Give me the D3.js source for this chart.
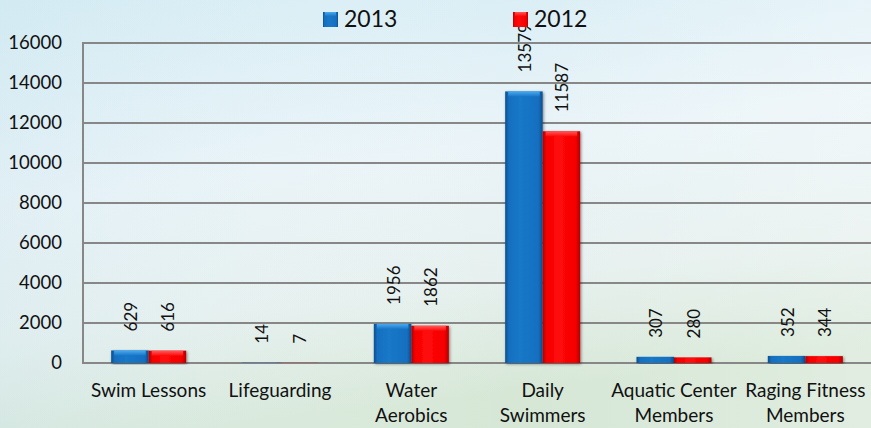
<!DOCTYPE html>
<html>
<head>
<meta charset="utf-8">
<script src="https://cdn.jsdelivr.net/npm/d3@7"></script>
<style>
  html, body { margin: 0; padding: 0; }
  body { width: 871px; height: 428px; overflow: hidden; }
  svg { display: block; font-family: Lato, "Open Sans", sans-serif; }
</style>
</head>
<body>
<svg id="chart" width="871" height="428"></svg>
<script>
const categories = [["Swim Lessons"], ["Lifeguarding"], ["Water", "Aerobics"], ["Daily", "Swimmers"], ["Aquatic Center", "Members"], ["Raging Fitness", "Members"]];
const seriesNames = ["2013", "2012"];
const values2013 = [629, 14, 1956, 13579, 307, 352];
const values2012 = [616, 7, 1862, 11587, 280, 344];
const yTicks = [0, 2000, 4000, 6000, 8000, 10000, 12000, 14000, 16000];

const W = 871, H = 428;
const svg = d3.select("#chart");
const defs = svg.append("defs");

// background
const bg = defs.append("linearGradient").attr("id", "bg").attr("x1", 0).attr("y1", 0).attr("x2", 0.25).attr("y2", 1);
bg.append("stop").attr("offset", "0%").attr("stop-color", "#d4ecf4");
bg.append("stop").attr("offset", "45%").attr("stop-color", "#eaf4f8");
bg.append("stop").attr("offset", "75%").attr("stop-color", "#e6f0ee");
bg.append("stop").attr("offset", "100%").attr("stop-color", "#d6e7d6");
svg.append("rect").attr("width", W).attr("height", H).attr("fill", "url(#bg)");
const bg2 = defs.append("linearGradient").attr("id", "bg2").attr("x1", 0).attr("y1", 0).attr("x2", 1).attr("y2", 0);
bg2.append("stop").attr("offset", "0%").attr("stop-color", "#cfe6ef").attr("stop-opacity", 0.35);
bg2.append("stop").attr("offset", "60%").attr("stop-color", "#ffffff").attr("stop-opacity", 0);
bg2.append("stop").attr("offset", "100%").attr("stop-color", "#ffffff").attr("stop-opacity", 0.25);
svg.append("rect").attr("width", W).attr("height", H).attr("fill", "url(#bg2)");

// bar gradients
function barGrad(id, edge, mid, light) {
  const g = defs.append("linearGradient").attr("id", id).attr("x1", 0).attr("y1", 0).attr("x2", 1).attr("y2", 0);
  g.append("stop").attr("offset", "0%").attr("stop-color", edge);
  g.append("stop").attr("offset", "10%").attr("stop-color", mid);
  g.append("stop").attr("offset", "40%").attr("stop-color", light);
  g.append("stop").attr("offset", "88%").attr("stop-color", mid);
  g.append("stop").attr("offset", "100%").attr("stop-color", edge);
}
barGrad("gBlue", "#0d4f8e", "#146fc0", "#1a78c8");
barGrad("gRed", "#b00000", "#f50000", "#ff0a0a");
function topGrad(id, c1, c2) {
  const g = defs.append("linearGradient").attr("id", id).attr("x1", 0).attr("y1", 0).attr("x2", 0).attr("y2", 1);
  g.append("stop").attr("offset", "0%").attr("stop-color", c1);
  g.append("stop").attr("offset", "100%").attr("stop-color", c2);
}
topGrad("tBlue", "#4aaaf0", "#1a78c8");
topGrad("tRed", "#ff5a5a", "#ff0a0a");
const shadow = defs.append("filter").attr("id", "shadow").attr("x", "-20%").attr("y", "-5%").attr("width", "140%").attr("height", "115%");
shadow.append("feDropShadow").attr("dx", 1).attr("dy", 1).attr("stdDeviation", 1.5).attr("flood-color", "#000").attr("flood-opacity", 0.45);

const margin = { left: 83, right: 0, top: 43, bottom: 65 };
const x0 = d3.scaleBand().domain(d3.range(categories.length)).range([margin.left, W - margin.right]).padding(0);
const bw = x0.bandwidth();
const groupW = 75;
const x1 = d3.scaleBand().domain(seriesNames).range([(bw - groupW) / 2, (bw + groupW) / 2]).padding(0);
const y = d3.scaleLinear().domain([0, 16000]).range([H - margin.bottom, margin.top]);

// gridlines
const grid = svg.append("g");
grid.selectAll("line").data(yTicks).join("line")
  .attr("x1", margin.left).attr("x2", W)
  .attr("y1", d => y(d)).attr("y2", d => y(d))
  .attr("stroke", "#878787").attr("stroke-width", 2);
svg.append("line").attr("x1", margin.left).attr("x2", margin.left)
  .attr("y1", y(16000) - 1).attr("y2", y(0) + 1)
  .attr("stroke", "#878787").attr("stroke-width", 2);

// y axis labels
const yAxis = d3.axisLeft(y).tickValues(yTicks).tickSize(0).tickPadding(21).tickFormat(d3.format("d"));
const ya = svg.append("g").attr("transform", `translate(${margin.left},0)`).call(yAxis);
ya.select(".domain").remove();
ya.selectAll("text").attr("font-size", 18.5).attr("fill", "#111").attr("font-family", "Lato, sans-serif");

// bars
const data = categories.map((c, i) => ({ i, vals: [{ s: "2013", v: values2013[i] }, { s: "2012", v: values2012[i] }] }));
const groups = svg.append("g").selectAll("g").data(data).join("g")
  .attr("transform", d => `translate(${x0(d.i)},0)`);
const bars = groups.selectAll("g.bar").data(d => d.vals).join("g").attr("class", "bar");
bars.append("rect")
  .attr("x", d => x1(d.s)).attr("width", x1.bandwidth())
  .attr("y", d => y(d.v)).attr("height", d => y(0) - y(d.v))
  .attr("fill", d => d.s === "2013" ? "url(#gBlue)" : "url(#gRed)")
  .attr("filter", "url(#shadow)");
bars.filter(d => y(0) - y(d.v) > 8).append("rect")
  .attr("x", d => x1(d.s) + 3).attr("width", x1.bandwidth() - 6)
  .attr("y", d => y(d.v)).attr("height", 5)
  .attr("fill", d => d.s === "2013" ? "url(#tBlue)" : "url(#tRed)");

// value labels (rotated)
groups.selectAll("text.val").data(d => d.vals).join("text").attr("class", "val")
  .attr("transform", d => `translate(${x1(d.s) + x1.bandwidth() / 2 + 7},${y(d.v) - 19}) rotate(-90)`)
  .attr("text-anchor", "start")
  .attr("font-size", 17).attr("fill", "#111")
  .text(d => d.v);

// category labels
const cat = svg.append("g").selectAll("text").data(categories).join("text")
  .attr("x", (d, i) => x0(i) + bw / 2)
  .attr("y", H - margin.bottom + 34)
  .attr("text-anchor", "middle").attr("font-size", 19).attr("fill", "#111");
cat.selectAll("tspan").data(d => d).join("tspan")
  .attr("x", function () { return this.parentNode.getAttribute("x"); })
  .attr("dy", (d, j) => j === 0 ? 0 : 25)
  .text(d => d);

// legend
const legendX = [323, 513];
const leg = svg.append("g").selectAll("g").data(seriesNames).join("g")
  .attr("transform", (d, i) => `translate(${legendX[i]},0)`);
leg.append("rect").attr("x", 0).attr("y", 12).attr("width", 15).attr("height", 15)
  .attr("fill", d => d === "2013" ? "url(#gBlue)" : "url(#gRed)");
leg.append("rect").attr("x", 2).attr("y", 12).attr("width", 11).attr("height", 4)
  .attr("fill", d => d === "2013" ? "url(#tBlue)" : "url(#tRed)");
leg.append("text").attr("x", 21).attr("y", 27).attr("font-size", 23).attr("fill", "#111").text(d => d);
</script>
</body>
</html>
